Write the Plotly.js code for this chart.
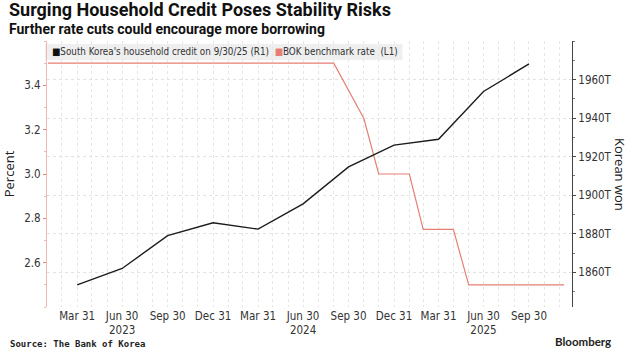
<!DOCTYPE html>
<html>
<head>
<meta charset="utf-8">
<script src="https://cdn.plot.ly/plotly-3.0.1.min.js"></script>
<style>
html,body{margin:0;padding:0;background:#fff;}
#chart{width:635px;height:354px;}
</style>
</head>
<body>
<div id="chart"></div>
<script>
// Household credit (trillion won), quarter ends
const creditDates = ['2023-03-31','2023-06-30','2023-09-30','2023-12-31','2024-03-31','2024-06-30','2024-09-30','2024-12-31','2025-03-31','2025-06-30','2025-09-30'];
const creditValues = [1853.5, 1862.0, 1879.0, 1885.7, 1882.4, 1895.5, 1914.7, 1926.0, 1929.0, 1953.8, 1968.1];

// BOK benchmark rate (%)
const rateDates = ['2023-01-31','2024-08-31','2024-10-31','2024-11-30','2025-01-31','2025-02-28','2025-04-30','2025-05-31','2025-12-10'];
const rateValues = [3.5, 3.5, 3.25, 3.0, 3.0, 2.75, 2.75, 2.5, 2.5];

// x-axis tick labels
const tickDates = ['2023-03-31','2023-06-30','2023-09-30','2023-12-31','2024-03-31','2024-06-30','2024-09-30','2024-12-31','2025-03-31','2025-06-30','2025-09-30'];
const tickLabels = ['Mar 31','Jun 30<br>2023','Sep 30','Dec 31','Mar 31','Jun 30<br>2024','Sep 30','Dec 31','Mar 31','Jun 30<br>2025','Sep 30'];

const TITLEFONT = 'Roboto, DejaVu Sans Condensed, sans-serif';
const TICKFONT = 'DejaVu Sans Condensed, DejaVu Sans, sans-serif';

const traces = [
  {x: rateDates, y: rateValues, type: 'scatter', mode: 'lines', yaxis: 'y',
   line: {color: '#e57f74', width: 1.2}, showlegend: false, hoverinfo: 'skip'},
  {x: creditDates, y: creditValues, type: 'scatter', mode: 'lines', yaxis: 'y2',
   line: {color: '#1c1c1c', width: 1.4}, showlegend: false, hoverinfo: 'skip'}
];

const layout = {
  width: 635, height: 354,
  margin: {l: 47, r: 63, t: 41, b: 47},
  paper_bgcolor: '#ffffff', plot_bgcolor: '#ffffff',
  showlegend: false,
  xaxis: {
    type: 'date', range: ['2023-01-29', '2025-12-26'],
    tickmode: 'array', tickvals: tickDates, ticktext: tickLabels,
    showgrid: false, zeroline: false, showline: false, ticks: '',
    tickfont: {family: TICKFONT, size: 11.5, color: '#333'},
    minor: {dtick: 'M1', tick0: '2023-01-31', showgrid: true, gridcolor: '#e6e6e6', griddash: 'dot', gridwidth: 1}
  },
  yaxis: {
    range: [2.4, 3.6], side: 'left',
    tickvals: [2.6, 2.8, 3.0, 3.2, 3.4], ticktext: ['2.6','2.8','3.0','3.2','3.4'],
    showgrid: false, zeroline: false,
    showline: true, linecolor: '#f2b9b3', linewidth: 1,
    ticks: 'outside', ticklen: 3, tickcolor: '#e57f74',
    minor: {dtick: 0.1, tick0: 2.5, ticks: 'outside', ticklen: 2, tickcolor: '#f2b9b3', showgrid: false},
    tickfont: {family: TICKFONT, size: 11.5, color: '#333'},
    title: {text: 'Percent', font: {family: 'Open Sans, sans-serif', size: 13, color: '#222'}, standoff: 9}
  },
  yaxis2: {
    range: [1842, 1980], overlaying: 'y', side: 'right', anchor: 'x',
    tickvals: [1860, 1880, 1900, 1920, 1940, 1960],
    ticktext: ['1860T','1880T','1900T','1920T','1940T','1960T'],
    showgrid: true, gridcolor: '#e3e3e3', griddash: 'dot', gridwidth: 1, zeroline: false,
    showline: true, linecolor: '#444', linewidth: 1,
    ticks: 'outside', ticklen: 3, tickcolor: '#444',
    minor: {dtick: 10, tick0: 1850, ticks: 'outside', ticklen: 2, tickcolor: '#777', showgrid: false},
    tickfont: {family: TICKFONT, size: 11.5, color: '#333'}
  },
  shapes: [
    {type: 'rect', xref: 'paper', yref: 'paper', x0: -0.004, x1: 0.677, y0: 0.929, y1: 0.989,
     fillcolor: '#efefef', line: {width: 0}, layer: 'below'}
  ],
  annotations: [
    {xref: 'paper', yref: 'paper', x: -47/525, y: 1 + 41/266, xanchor: 'left', yanchor: 'top',
     xshift: 7, yshift: 3, showarrow: false,
     text: '<b>Surging Household Credit Poses Stability Risks</b>',
     font: {family: TITLEFONT, size: 18, color: '#111'}},
    {xref: 'paper', yref: 'paper', x: -47/525, y: 1 + 41/266, xanchor: 'left', yanchor: 'top',
     xshift: 7, yshift: -19, showarrow: false,
     text: '<b>Further rate cuts could encourage more borrowing</b>',
     font: {family: TITLEFONT, size: 14, color: '#111'}},
    {xref: 'paper', yref: 'paper', x: 0.006, y: 0.959, xanchor: 'left', yanchor: 'middle', showarrow: false,
     text: '<span style="color:#111">■</span>South Korea\'s household credit on 9/30/25 (R1)  <span style="color:#e57f74">■</span>BOK benchmark rate  (L1)',
     font: {family: TICKFONT, size: 9.8, color: '#333'}},
    {xref: 'paper', yref: 'paper', x: 1 + 48/525, y: 0.5, xanchor: 'center', yanchor: 'middle', showarrow: false,
     textangle: 90, text: 'Korean won', font: {family: 'Open Sans, sans-serif', size: 13, color: '#222'}},
    {xref: 'paper', yref: 'paper', x: -47/525, y: -47/266, xanchor: 'left', yanchor: 'bottom',
     xshift: 8, yshift: 3, showarrow: false,
     text: '<b>Source: The Bank of Korea</b>',
     font: {family: 'DejaVu Sans Mono, monospace', size: 9, color: '#222'}},
    {xref: 'paper', yref: 'paper', x: 1 + 63/525, y: -47/266, xanchor: 'right', yanchor: 'bottom',
     xshift: -22, yshift: 4, showarrow: false,
     text: '<b>Bloomberg</b>',
     font: {family: 'Lato, sans-serif', size: 11.5, color: '#222'}}
  ]
};

Plotly.newPlot('chart', traces, layout, {staticPlot: true, displayModeBar: false});
</script>
</body>
</html>
